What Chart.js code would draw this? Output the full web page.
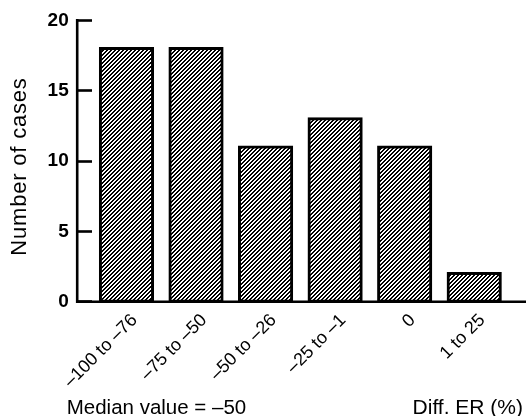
<!DOCTYPE html>
<html><head><meta charset="utf-8">
<script src="https://cdn.jsdelivr.net/npm/chart.js@4"></script>
<style>html,body{margin:0;padding:0;background:#fff;} #wrap{width:526px;height:416px;position:relative;}</style>
</head><body><div id="wrap"><canvas id="c" width="526" height="416"></canvas></div>
<script>
const categories = ['–100 to –76', '–75 to –50', '–50 to –26', '–25 to –1', '0', '1 to 25'];
const cases = [18, 18, 11, 13, 11, 2];
const yTicks = [0, 5, 10, 15, 20];
const yTitle = 'Number of cases';
const xTitle = 'Diff. ER (%)';
const note = 'Median value = –50';

const FAMILY = '"Liberation Sans", Arial, Helvetica, sans-serif';

function hatch() {
  const c = document.createElement('canvas');
  c.width = 4; c.height = 4;
  const g = c.getContext('2d');
  g.fillStyle = '#fff'; g.fillRect(0, 0, 4, 4);
  g.fillStyle = '#000';
  for (let py = 0; py < 4; py++) {
    for (let px = 0; px < 4; px++) {
      if (((px + py) % 4) < 2) g.fillRect(px, py, 1, 1);
    }
  }
  return g.createPattern(c, 'repeat');
}

const deco = {
  id: 'deco',
  afterDraw(chart) {
    const ctx = chart.ctx, a = chart.chartArea, y = chart.scales.y;
    const xv = a.left - 14.5;
    const yTop = y.getPixelForValue(20), yZero = y.getPixelForValue(0);
    ctx.save();
    ctx.strokeStyle = '#000';
    ctx.lineWidth = 2.6;
    ctx.beginPath();
    ctx.moveTo(xv, yTop - 1.3);
    ctx.lineTo(xv, yZero);
    ctx.lineTo(chart.width, yZero);
    ctx.stroke();

    ctx.fillStyle = '#000';
    ctx.font = '20.5px ' + FAMILY;
    ctx.textBaseline = 'alphabetic';
    ctx.textAlign = 'left';
    ctx.fillText(note, 66.7, 413.5);
    ctx.font = '21px ' + FAMILY;
    ctx.textAlign = 'right';
    ctx.fillText(xTitle, 523, 413.5);

    ctx.translate(19.5, 166.5);
    ctx.rotate(-Math.PI / 2);
    ctx.font = '22px ' + FAMILY;
    ctx.letterSpacing = '0.8px';
    ctx.textAlign = 'center';
    ctx.textBaseline = 'middle';
    ctx.fillText(yTitle, 0, 0);
    ctx.restore();
  }
};

new Chart(document.getElementById('c'), {
  type: 'bar',
  data: {
    labels: categories,
    datasets: [{
      data: cases,
      backgroundColor: hatch(),
      borderColor: '#000',
      borderWidth: 3,
      borderSkipped: false,
      inflateAmount: 1.5,
      barPercentage: 0.75,
      categoryPercentage: 1
    }]
  },
  options: {
    responsive: false,
    animation: false,
    devicePixelRatio: 1,
    layout: { padding: { left: 0, right: 17, top: 18, bottom: 0 } },
    plugins: { legend: { display: false }, tooltip: { enabled: false } },
    scales: {
      x: {
        grid: { display: false },
        border: { display: false },
        ticks: {
          color: '#000',
          font: { family: FAMILY, size: 18 },
          minRotation: 45, maxRotation: 45,
          autoSkip: false,
          labelOffset: 8,
          padding: 0
        },
        afterFit(s) { s.height = 114.3; }
      },
      y: {
        min: 0, max: 20,
        afterBuildTicks(s) { s.ticks = yTicks.map(v => ({ value: v })); },
        grid: { drawOnChartArea: false, tickLength: 14, tickWidth: 2.6, color: '#000' },
        border: { display: false },
        ticks: {
          color: '#000',
          font: { family: FAMILY, size: 19, weight: 'bold' },
          padding: 9
        },
        afterFit(s) { s.width = 91.7; }
      }
    }
  },
  plugins: [deco]
});
</script>
</body></html>
